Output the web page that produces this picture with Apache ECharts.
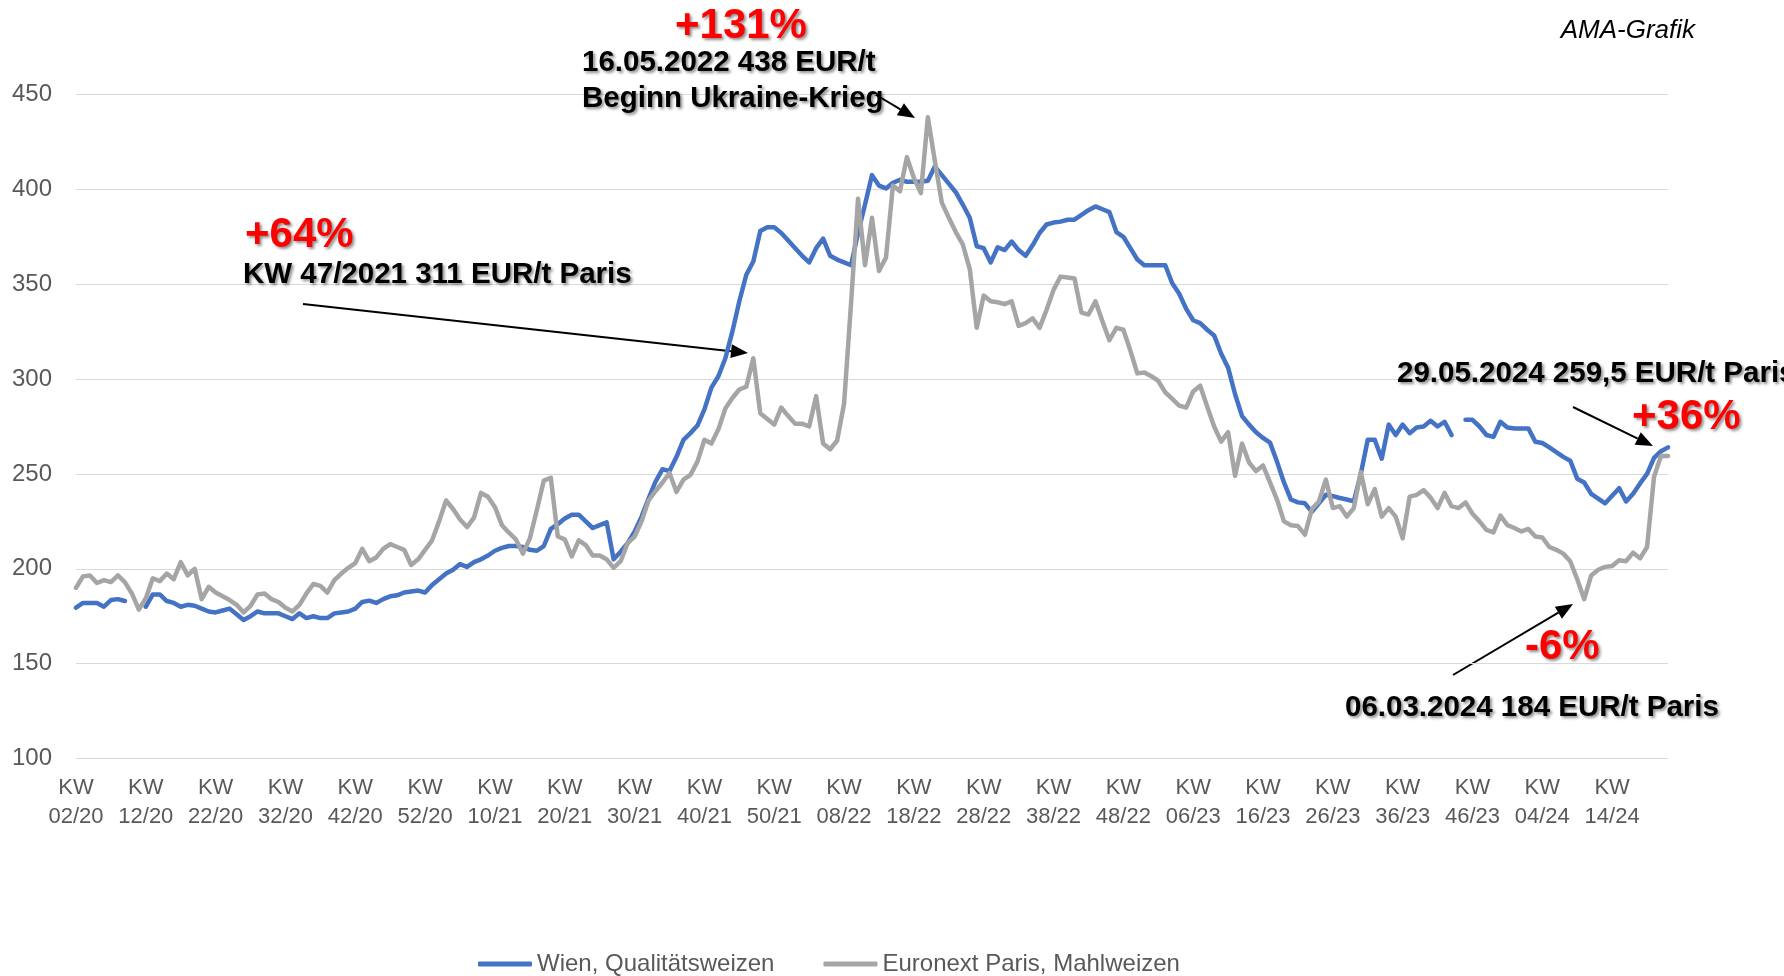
<!DOCTYPE html>
<html>
<head>
<meta charset="utf-8">
<title>Weizenpreise Wien / Paris</title>
<script src="https://cdn.jsdelivr.net/npm/echarts@6/dist/echarts.min.js"></script>
<style>
  html, body { margin: 0; padding: 0; background: #fff; }
  #chart { width: 1784px; height: 976px; }
</style>
</head>
<body>
<div id="chart"></div>
<script>
// Wöchentliche Notierungen in EUR/t, ab KW 02/2020 bis KW 22/2024
const wien = [
  179.5, 182, 182, 182, 180, 183.5, 184, 183, null, null,
  180, 186.5, 186.5, 183, 182, 180, 181, 180.5, 179, 177.5,
  177, 178, 179, 176, 173, 175, 177.5, 176.5, 176.5, 176.5,
  175, 173.5, 176.5, 174, 175, 174, 174, 176.5, 177, 177.5,
  179, 182.5, 183.2, 182, 184, 185.5, 186, 187.5, 188, 188.5,
  187.5, 191.5, 194.5, 197.5, 199.5, 202.5, 201, 203.5, 205, 207,
  209.5, 211, 212, 212, 211.5, 210, 209.5, 212, 221, 223.5,
  226.5, 228.5, 228.5, 225, 221.5, 223, 224.5, 205, 209, 213.5,
  219.5, 227.5, 237, 246, 252.5, 251.5, 259, 268, 271.5, 275.5,
  284, 295.5, 301.5, 311, 325, 341, 355, 362, 378, 380,
  380, 377, 373, 369, 365, 361.5, 369, 374, 365, 363,
  361.5, 360, 377, 392, 407.5, 402, 400.5, 403.5, 405, 404,
  404, 404, 404.5, 412, 407.5, 403, 398.5, 392, 385, 370,
  369, 361.5, 369.5, 368, 372.5, 368, 365, 370.5, 377, 381.5,
  382.5, 383, 384, 384, 386.5, 389, 391, 389.5, 388, 377.5,
  375, 369, 363, 360, 360, 360, 360, 350.5, 345, 337,
  331, 329.5, 326, 323, 313.5, 306, 292, 280.5, 276, 272,
  269, 266.5, 256.5, 245.5, 236.5, 235, 234.5, 230, 234.5, 239,
  238.3, 237.3, 236.5, 235.5, 250, 268, 268, 258, 276, 270.5,
  276, 271.5, 274.5, 275, 278, 275, 277.5, 270.5, null, 278.5,
  278.5, 275, 270.5, 269.5, 277.5, 274.5, 274, 274, 274, 267,
  266.3, 264, 261.5, 259, 257, 247.5, 245.5, 239.5, 237, 234.5,
  238.5, 242.5, 235.5, 239.5, 245, 250, 258.5, 262, 264
];

const paris = [
  190, 196, 196.5, 192.5, 194, 193, 196.5, 193, 187, 178.5,
  184.5, 195, 193.5, 197.5, 194.5, 203.5, 196.5, 200, 184, 190.5,
  187.5, 185.5, 183.5, 181, 177, 180.5, 186.5, 187, 184, 182.5,
  179.5, 177.5, 181, 187, 192, 191, 187.5, 194, 197.5, 200.5,
  203, 210.5, 204, 206, 210.5, 213, 211.5, 210, 202, 205,
  210, 215, 225, 236, 231.5, 226, 222, 227, 240, 238,
  232.5, 223, 219, 215.5, 208, 216, 231, 246.5, 248, 217,
  215.5, 206.5, 215, 212.5, 207, 207, 205, 200.5, 204, 213.5,
  217, 225, 236, 241, 245.5, 250.5, 240.5, 247, 249.5, 256.5,
  268, 266, 273.5, 284.5, 290, 294.5, 296, 311, 282, 279,
  276, 285, 280.5, 276.5, 276.5, 275, 291, 266, 263, 267.5,
  287, 340, 395, 360, 385, 357, 364, 402, 399, 417,
  406, 398, 438, 415, 393, 385, 377.5, 371, 358, 327,
  344, 341, 340.5, 339.5, 341, 328, 329.5, 332, 327, 336.5,
  347, 354, 353.5, 353, 335, 334, 341, 330.5, 320.5, 327,
  326, 315, 303, 303.5, 301.5, 299, 293, 289.5, 286, 285,
  293.5, 296.5, 285.5, 275, 267, 272, 249, 266, 256, 251.5,
  254.5, 245.5, 236.5, 225, 223, 222.5, 218, 231.5, 235.5, 247,
  232, 233, 227.5, 232, 251, 234, 242, 227.5, 232, 227.5,
  216, 238, 239, 241.5, 237.5, 232, 240, 233, 232, 235,
  229, 225, 220.5, 219.2, 228, 223, 221.5, 219.7, 221, 217,
  216.5, 211.5, 210, 208, 204, 194.5, 184, 196.5, 199.5, 201,
  201.5, 204.5, 204, 208.5, 205.5, 211.5, 248.5, 259.5, 259.5
];

const seriesNames = ['Wien, Qualitätsweizen', 'Euronext Paris, Mahlweizen'];

// Kalenderwochen (je Jahr 1..52), Start KW 02/20
const weekLabels = [];
for (let yr = 20, wk = 2; weekLabels.length < paris.length; ) {
  weekLabels.push('KW\n' + String(wk).padStart(2, '0') + '/' + yr);
  wk++;
  if (wk > 52) { wk = 1; yr++; }
}

const FONT = '"Liberation Sans", Arial, sans-serif';
const shadow = { textShadowColor: 'rgba(0,0,0,0.45)', textShadowBlur: 3, textShadowOffsetX: 2, textShadowOffsetY: 2 };

function label(text, x, y, size, color) {
  return {
    type: 'text', z: 100,
    style: Object.assign({
      text: text, x: x, y: y,
      fill: color, align: 'left', verticalAlign: 'middle',
      font: 'bold ' + size + 'px ' + FONT
    }, shadow)
  };
}

function arrow(x1, y1, x2, y2) {
  const a = Math.atan2(y2 - y1, x2 - x1);
  const len = 17, half = 7;
  const bx = x2 - len * Math.cos(a), by = y2 - len * Math.sin(a);
  const px = -Math.sin(a) * half, py = Math.cos(a) * half;
  return {
    type: 'group', z: 100,
    children: [
      { type: 'line', shape: { x1: x1, y1: y1, x2: bx, y2: by }, style: { stroke: '#000', lineWidth: 2 } },
      { type: 'polygon', shape: { points: [[x2, y2], [bx + px, by + py], [bx - px, by - py]] }, style: { fill: '#000' } }
    ]
  };
}

const chart = echarts.init(document.getElementById('chart'), null, { renderer: 'canvas' });

const RED = 42, BLACK = 29.5;

chart.setOption({
  animation: false,
  backgroundColor: '#fff',
  textStyle: { fontFamily: FONT },
  grid: { left: 76, right: 116, top: 94.5, bottom: 217.5, containLabel: false },
  legend: {
    left: 478, top: 952, padding: 0,
    icon: 'roundRect', itemWidth: 54, itemHeight: 5, itemGap: 49,
    textStyle: { fontSize: 24, color: '#595959', fontFamily: FONT },
    data: seriesNames
  },
  xAxis: {
    type: 'category',
    data: weekLabels,
    boundaryGap: false,
    axisTick: { show: false },
    axisLine: { show: true, lineStyle: { color: '#D9D9D9', width: 1 } },
    axisLabel: { interval: 9, fontSize: 22, lineHeight: 29, margin: 15, color: '#595959', fontFamily: FONT },
    splitLine: { show: false }
  },
  yAxis: {
    type: 'value',
    min: 100, max: 450, interval: 50,
    axisLine: { show: false },
    axisTick: { show: false },
    axisLabel: { fontSize: 24, margin: 24, color: '#595959', fontFamily: FONT },
    splitLine: { lineStyle: { color: '#D9D9D9', width: 1 } }
  },
  series: [
    {
      name: seriesNames[0], type: 'line', data: wien,
      showSymbol: false, symbol: 'none', connectNulls: false,
      itemStyle: { color: '#4472C4' },
      lineStyle: { color: '#4472C4', width: 4.5, cap: 'round', join: 'round' }
    },
    {
      name: seriesNames[1], type: 'line', data: paris,
      showSymbol: false, symbol: 'none',
      itemStyle: { color: '#A5A5A5' },
      lineStyle: { color: '#A5A5A5', width: 4.5, cap: 'round', join: 'round' }
    }
  ],
  graphic: [
    {
      type: 'text', z: 100,
      style: { text: 'AMA-Grafik', x: 1695, y: 31, align: 'right', verticalAlign: 'middle',
               fill: '#000', font: 'italic 26px ' + FONT }
    },
    label('+131%', 675, 26, RED, '#FF0000'),
    label('16.05.2022 438 EUR/t', 582, 63, BLACK, '#000'),
    label('Beginn Ukraine-Krieg', 582, 99, BLACK, '#000'),
    arrow(873, 93, 915, 118),
    label('+64%', 245, 235, RED, '#FF0000'),
    label('KW 47/2021 311 EUR/t Paris', 243, 275, BLACK, '#000'),
    arrow(303, 304, 748, 353),
    label('29.05.2024 259,5 EUR/t Paris', 1397, 374, BLACK, '#000'),
    label('+36%', 1632, 417, RED, '#FF0000'),
    arrow(1573, 407, 1653, 446),
    label('-6%', 1525, 647, RED, '#FF0000'),
    label('06.03.2024 184 EUR/t Paris', 1345, 708, BLACK, '#000'),
    arrow(1453, 675, 1573, 604)
  ]
});
</script>
</body>
</html>
